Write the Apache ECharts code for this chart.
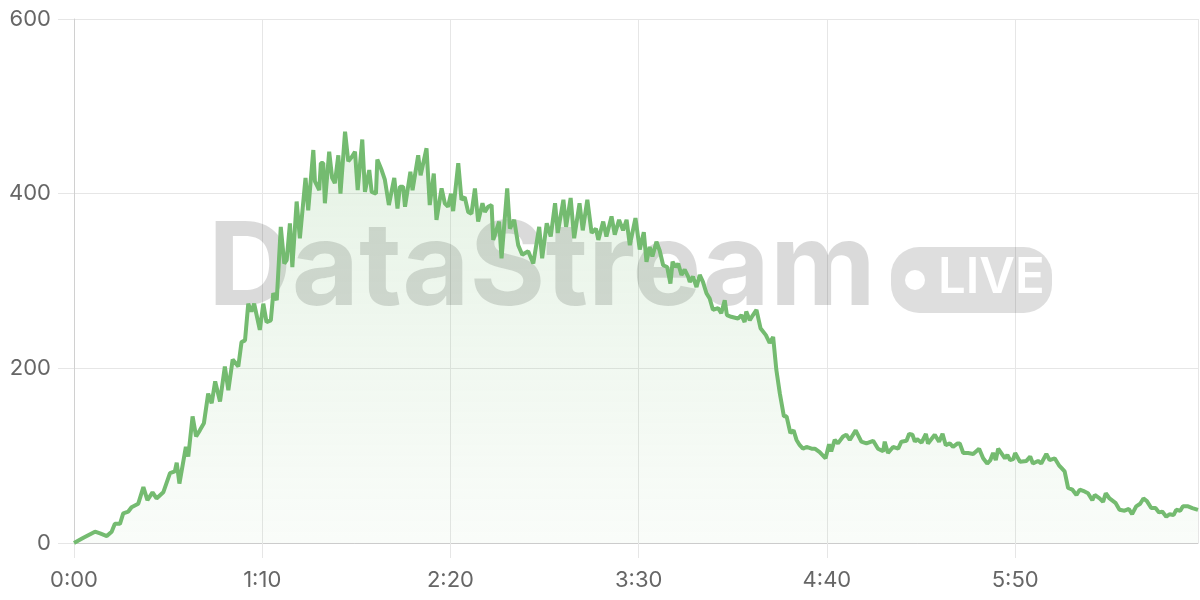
<!DOCTYPE html>
<html>
<head>
<meta charset="utf-8">
<script src="https://cdn.jsdelivr.net/npm/echarts@6/dist/echarts.min.js"></script>
<style>html,body{margin:0;padding:0;background:#fff}#c{width:1200px;height:600px}</style>
</head>
<body>
<div id="c"></div>
<script>
// elapsed seconds of each reading
const times = [0,3.5,7.8,9.7,12.2,14,15.2,17.1,18.3,20.2,21.4,23.9,25.8,27.3,29.2,30.7,33.2,35.7,37.5,38.2,39.2,41.6,42.5,44.1,45.4,46.8,48.3,49.9,51.2,52.5,53.1,54.3,56.1,57.4,59,61.1,62.3,63.6,64.8,66,67,69.1,70.4,71.6,73.2,74.1,75.4,76.9,78.2,79.1,80.3,81.2,82.8,84,86.1,87.1,89,89.6,91.2,91.8,92.7,93.3,94.9,96,97,98.3,99.1,100.8,102,103.3,104.5,105.5,107.2,108.2,109.8,110.7,112.3,112.8,114.4,115.6,117.1,119.1,120.3,121.2,122.4,123.1,125.1,125.9,128,128.9,131.1,132.3,133.8,134.8,136.7,137.9,139.1,140.2,141,142.9,144.1,145.3,146.6,147.8,149.1,150.3,151.9,152.8,154,155.3,155.9,158.1,159,161.1,162.1,163.7,165.2,166.7,168.9,170.8,173,174.1,175.8,177.3,178.9,179.9,182,183,184.7,186,188,189.2,190.9,192.5,194.1,195,196.8,198,199.9,201.1,202.7,204.2,205.5,206.7,208.8,210.4,211.9,212.9,214.1,215.1,216.6,217.8,219.1,220.6,221.8,222.6,223.8,224.7,225.9,227.1,228.4,229,230.2,231.5,232.7,233.9,235.2,236.4,237.6,239.5,240.7,242,242.8,244.4,246.9,248.2,249.4,250,251.3,252.5,253.8,255.3,257.3,258.7,260,261.2,262.5,264,265,266.4,267.6,268.7,269.9,271.1,272.4,274.3,275.5,277.3,279.5,280.8,281.6,282.9,284.1,286,287.2,288.5,290.7,292.8,294.7,297.2,299,300.9,301.5,302.7,304.6,306.5,307.7,309.6,310.6,311.8,312.7,313.5,315.2,316.8,317.6,320.1,321.7,323,324.2,325.7,326.9,328.6,329.4,330.7,332.5,334.4,336.6,338.1,339.6,340.8,341.8,342.8,343.7,345.3,346.2,347.1,348.1,349.3,350,351.8,354.2,355.6,356.6,358.5,359.7,361.6,362.8,364.7,366.3,367.2,368.4,369.7,371.3,372.8,374,375.8,377.1,378.7,379.6,381.4,382.7,383.7,385.1,387.3,388.8,390.7,392.3,393.5,395,396.5,397.7,399,400.6,402.2,403.5,404.7,406.2,407.4,408.9,409.9,411.4,412.4,414.3,415.9,418];
// readings
const values = [0,6,13,11,8,13,22,22,34,36,41,45,64,49,58,51,58,80,82,92,68,110,99,145,122,129,137,171,160,185,183,162,202,175,210,202,230,232,274,265,274,244,274,253,255,286,278,362,320,324,366,316,391,349,418,381,450,414,404,435,435,389,448,418,412,444,400,471,437,442,448,404,462,402,427,402,400,439,427,416,387,418,383,408,408,385,425,404,444,421,452,387,423,370,406,389,385,400,380,435,393,396,379,377,406,368,389,379,385,387,347,368,326,406,360,370,341,330,334,320,362,326,366,351,389,355,393,362,395,349,389,358,393,355,360,347,368,351,374,353,370,358,370,341,372,336,356,322,339,328,345,335,318,316,297,322,316,320,307,313,305,299,305,293,307,299,286,280,267,269,263,278,261,259,257,261,253,265,255,261,267,246,238,229,236,198,171,145,145,126,129,118,112,108,110,108,108,104,97,113,105,118,114,122,124,118,129,116,114,117,108,105,116,103,110,108,116,117,125,124,116,119,115,125,114,124,116,125,112,114,110,114,114,103,103,102,108,97,91,95,103,95,108,101,97,101,95,96,103,93,94,99,91,94,91,102,95,97,89,86,82,63,61,55,61,59,57,49,55,51,47,57,51,46,38,37,39,33,42,45,51,48,40,40,35,36,30,33,32,38,37,42,42,40,38];
const yTicks = [0, 200, 400, 600];
const xTickStep = 70;

const seriesData = times.map((t, i) => [t, values[i]]);
function fmt(s) { const m = Math.floor(s / 60); const r = Math.round(s % 60); return m + ':' + (r < 10 ? '0' : '') + r; }

const chart = echarts.init(document.getElementById('c'), null, { renderer: 'canvas' });
const lineColor = '#74bb70';
chart.setOption({
  animation: false,
  grid: { left: 74, right: 2, top: 19, bottom: 57 },
  graphic: [
    { type: 'text', z: 1, left: 208, top: 212,
      style: { text: 'DataStream', font: '700 116px Inter', fill: 'rgba(0,0,0,0.145)' } },
    { type: 'rect', z: 1, shape: { x: 891, y: 247, width: 161, height: 66, r: 28 },
      style: { fill: 'rgba(0,0,0,0.13)' } },
    { type: 'circle', z: 1, shape: { cx: 915, cy: 280, r: 10 }, style: { fill: '#ffffff' } },
    { type: 'text', z: 1, left: 938, top: 254,
      style: { text: 'LIVE', font: '600 49px Inter', fill: '#ffffff' } }
  ],
  xAxis: {
    type: 'value', min: 0, max: 418, interval: xTickStep,
    axisLine: { show: true, lineStyle: { color: '#cccccc', width: 1 } },
    axisTick: { show: true, length: 15, lineStyle: { color: '#e6e6e6' } },
    splitLine: { show: true, lineStyle: { color: '#e6e6e6' } },
    axisLabel: { formatter: v => fmt(v), color: '#666', fontSize: 22, fontFamily: 'Inter', margin: 26, showMaxLabel: false }
  },
  yAxis: {
    type: 'value', min: yTicks[0], max: yTicks[yTicks.length - 1], interval: 200,
    axisLine: { show: true, lineStyle: { color: '#d0d0d0', width: 1 } },
    axisTick: { show: true, length: 16, lineStyle: { color: '#e6e6e6' } },
    splitLine: { show: true, lineStyle: { color: '#e6e6e6' } },
    axisLabel: { color: '#666', fontSize: 22, fontFamily: 'Inter', margin: 23 }
  },
  series: [{
    type: 'line', data: seriesData, showSymbol: false, z: 3,
    lineStyle: { color: lineColor, width: 4 },
    areaStyle: {
      color: new echarts.graphic.LinearGradient(0, 0, 0, 1, [
        { offset: 0, color: 'rgba(120,189,116,0.27)' },
        { offset: 1, color: 'rgba(120,189,116,0.06)' }
      ])
    }
  }]
});
</script>
</body>
</html>
